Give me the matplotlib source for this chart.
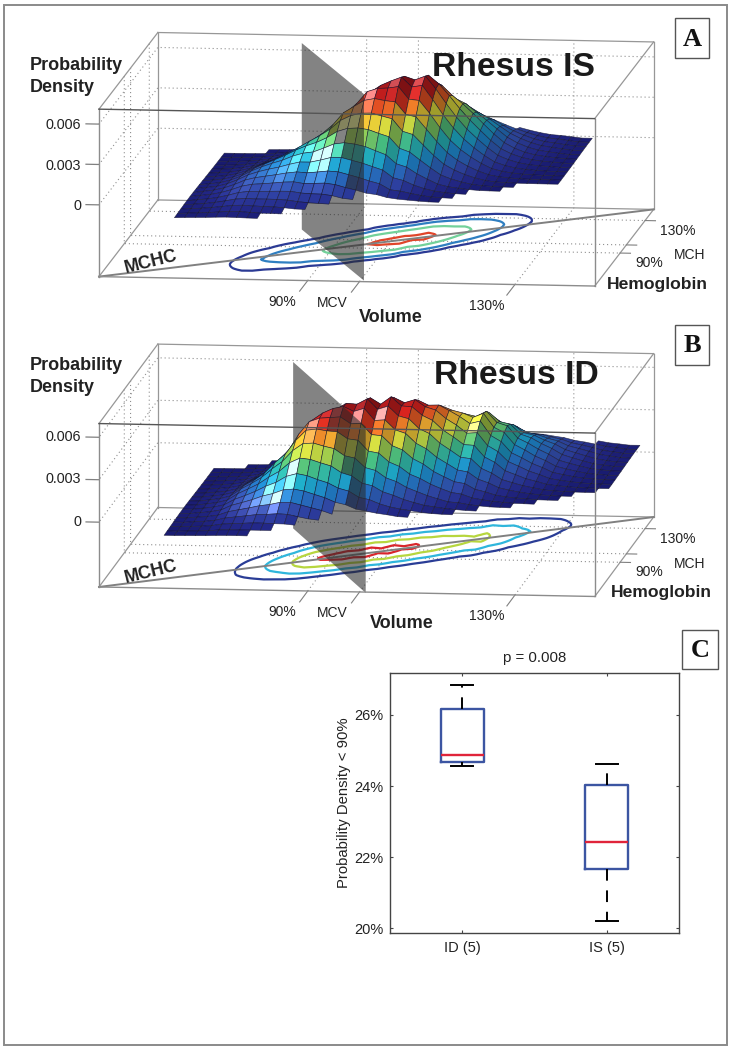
import numpy as np
import matplotlib
matplotlib.use("Agg")
import matplotlib.pyplot as plt
from matplotlib.colors import LinearSegmentedColormap
from matplotlib.patches import Rectangle
from mpl_toolkits.mplot3d import art3d, proj3d

W, H = 729, 1050
plt.rcParams['font.family'] = ['Liberation Sans', 'DejaVu Sans']
plt.rcParams['savefig.dpi'] = 100
plt.rcParams['axes.unicode_minus'] = False

# ---- data (density in 1e-4 units, MCV / MCH in % of the median)
row_mch = [35, 40, 45, 50, 55, 60, 65, 70, 75, 80, 85, 90, 95, 100, 105, 110, 115, 120, 125, 130, 135, 140, 145, 150]
cross_offset = [0, 6, 13, 20, 26, 33, 39, 46, 52, 60, 200]
cross_height = [1, .93, .76, .55, .37, .20, .09, .03, .01, 0, 0]

is_mcv = [66, 68, 70, 72, 74, 76, 78, 80, 82, 84, 86, 88, 90, 92, 94, 96, 98, 100, 102, 104, 106, 108, 110, 112, 114, 116, 118, 120, 122, 124, 126, 128, 130, 132, 134]
is_ridge = [1, 2, 3, 5, 8, 12, 15, 18, 21, 25, 29, 33, 39, 47, 53, 60, 64, 66, 69, 64, 67, 59, 49, 41, 33, 26, 19, 13, 9, 6, 4, 3, 2, 1, 1]
is_center = [61, 63, 65, 68, 70, 72, 74, 77, 79, 81, 83, 86, 88, 90, 92, 95, 97, 99, 101, 104, 106, 108, 110, 113, 115, 117, 119, 122, 124, 126, 128, 131, 133, 135, 137]
is_low = [35, 35, 35, 35, 35, 35, 35, 35, 40, 40, 45, 45, 50, 50, 55, 55, 60, 60, 60, 60, 60, 60, 60, 60, 65, 70, 75, 75, 75, 80, 85, 85, 85, 85, 85]
is_high = [115, 115, 115, 115, 120, 120, 120, 120, 120, 120, 125, 125, 125, 125, 125, 130, 130, 130, 130, 130, 130, 135, 135, 135, 135, 135, 135, 140, 140, 140, 140, 140, 140, 140, 140]
is_levels = [6, 15, 34, 60]

id_mcv = [64, 66, 68, 70, 72, 74, 76, 78, 80, 82, 84, 86, 88, 90, 92, 94, 96, 98, 100, 102, 104, 106, 108, 110, 112, 114, 116, 118, 120, 122, 124, 126, 128, 130, 132, 134, 136, 138, 140, 142]
id_ridge = [1, 1, 2, 3, 5, 10, 14, 19, 26, 33, 44, 53, 57, 59, 62, 60, 64, 58, 62, 57, 58, 53, 52, 47, 44, 40, 43, 34, 31, 23, 20, 16, 13, 9, 7, 5, 3, 2, 1, 1]
id_center = [64, 66, 68, 70, 72, 74, 76, 78, 80, 82, 84, 86, 88, 90, 92, 94, 96, 98, 100, 102, 104, 106, 108, 110, 112, 114, 116, 118, 120, 122, 124, 126, 128, 131, 133, 135, 137, 139, 141, 143]
id_low = [35, 35, 35, 35, 35, 35, 35, 35, 40, 40, 45, 45, 50, 50, 55, 60, 60, 60, 60, 60, 60, 60, 65, 65, 65, 65, 70, 70, 75, 75, 75, 80, 80, 85, 85, 90, 95, 95, 100, 100]
id_high = [115, 115, 115, 120, 120, 125, 125, 125, 125, 125, 130, 130, 130, 130, 130, 130, 135, 135, 135, 135, 135, 135, 135, 140, 140, 140, 140, 140, 140, 145, 145, 145, 145, 145, 145, 150, 150, 150, 150, 150]
id_levels = [8, 20, 38, 55]

box_groups = ['ID (5)', 'IS (5)']
box_whislo = [24.56, 20.2]
box_q1 = [24.68, 21.68]
box_med = [24.88, 22.42]
box_q3 = [26.18, 24.04]
box_whishi = [26.83, 24.61]
box_yticks = [20, 22, 24, 26]

shade = LinearSegmentedColormap.from_list('inked', [
    (0, (24/255, 26/255, 110/255)), (.05, (35/255, 40/255, 135/255)), (.15, (50/255, 75/255, 170/255)),
    (.27, (30/255, 130/255, 200/255)), (.36, (30/255, 175/255, 200/255)), (.47, (70/255, 190/255, 130/255)),
    (.57, (170/255, 205/255, 70/255)), (.64, (235/255, 225/255, 60/255)), (.73, (235/255, 130/255, 40/255)),
    (.83, (215/255, 35/255, 30/255)), (1, (115/255, 10/255, 20/255))])

fig = plt.figure(figsize=(W/100, H/100), dpi=100, facecolor='white')


def T(x, y, s, **kw):
    kw.setdefault('ha', 'center')
    kw.setdefault('va', 'center')
    return fig.text(x/W, 1-y/H, s, **kw)


def fit(ax, xl, yl, zl, p0, p1):
    side = 650.0
    cx, cy = 370.0, (p0[1]+p1[1])/2
    for _ in range(4):
        ax.set_position([(cx-side/2)/W, 1-(cy+side/2)/H, side/W, side/H])
        ax.apply_aspect()
        M = ax.get_proj()
        a = proj3d.proj_transform(xl[0], yl[0], zl[0], M)[:2]
        b = proj3d.proj_transform(xl[1], yl[1], zl[0], M)[:2]
        pa = ax.transData.transform(a)
        pb = ax.transData.transform(b)
        pa = np.array([pa[0], H-pa[1]])
        pb = np.array([pb[0], H-pb[1]])
        s = np.hypot(*(np.array(p1)-np.array(p0)))/np.hypot(*(pb-pa))
        side *= s
        mid = (pa+pb)/2
        tgt = (np.array(p0)+np.array(p1))/2
        cx += (tgt-mid)[0]
        cy += (tgt-mid)[1]
    ax.set_position([(cx-side/2)/W, 1-(cy+side/2)/H, side/W, side/H])


def panel(mcv, ridge, center, low, high, levels, cols, k, view, aspect, zl, p0, p1, plane, clim):
    ax = fig.add_subplot(projection='3d', computed_zorder=False, proj_type='ortho')
    ax.set_facecolor('none')
    ax.view_init(elev=view[0], azim=view[1])
    ax.set_box_aspect(aspect)
    xl, yl = (49.7, 145.4), (49.4, 143.7)
    xt, yt, zt = [90, 100, 130], [90, 100, 130], [0, .003, .006]
    ax.set_xlim(*xl, view_margin=0)
    ax.set_ylim(*yl, view_margin=0)
    ax.set_zlim(*zl, view_margin=0)
    ax.set_xticks(xt)
    ax.set_yticks(yt)
    ax.set_zticks(zt)
    ax.set_xticklabels(['', '', ''])
    ax.set_yticklabels(['', '', ''])
    ax.set_zticklabels(['', '', ''])
    for axis in (ax.xaxis, ax.yaxis, ax.zaxis):
        axis.set_pane_color((1, 1, 1, 0))
        axis.line.set_color((0, 0, 0, 0))
        axis._axinfo['grid'].update(color='#8f8f8f', linestyle=(0, (1, 2.6)), linewidth=.8)
        axis._axinfo['tick'].update(inward_factor=0, outward_factor=0)
    fit(ax, xl, yl, zl, p0, p1)

    # box edges
    x0, x1 = xl; y0, y1 = yl; z0, z1 = zl
    back = [((x0, x0), (y1, y1), (z0, z1)), ((x1, x1), (y1, y1), (z0, z1)),
            ((x0, x1), (y1, y1), (z1, z1)), ((x0, x1), (y1, y1), (z0, z0)),
            ((x0, x0), (y0, y1), (z1, z1)), ((x1, x1), (y0, y1), (z1, z1)),
            ((x0, x0), (y0, y1), (z0, z0)), ((x1, x1), (y0, y1), (z0, z0))]
    for e in back:
        ax.plot(*e, color='#979797', lw=.9, zorder=1)
    for e in [((x0, x1), (y0, y0), (z0, z0)), ((x0, x0), (y0, y0), (z0, z1)), ((x1, x1), (y0, y0), (z0, z1))]:
        ax.plot(*e, color='#8c8c8c', lw=1.0, zorder=20)
    ax.plot((x0, x1), (y0, y0), (z1, z1), color='#555555', lw=1.0, zorder=20)
    # tick marks
    for v in xt:
        ax.plot((v, v), (y0, y0-13), (z0, z0), color='#808080', lw=.8, zorder=1)
    for v in yt:
        ax.plot((x1, x1+2), (v, v), (z0, z0), color='#808080', lw=.8, zorder=1)
    for v in zt:
        ax.plot((x0, x0-2.5), (y0, y0), (v, v), color='#808080', lw=.9, zorder=1)

    # surface
    V = np.array(mcv, float)
    R = np.array(row_mch, float)
    rg = np.array(ridge, float)
    ct = np.array(center, float)
    Z = np.array([[rg[j]*np.interp(abs(r-ct[j]), cross_offset, cross_height) for r in R] for j in range(len(V))])

    # contours on the floor
    fine = np.arange(30., 160., 1.)
    F = np.array([[rg[j]*np.interp(abs(r-ct[j])*k, cross_offset, cross_height) for r in fine] for j in range(len(V))])
    XX, YY = np.meshgrid(V, fine, indexing='ij')
    cs = ax.contour(XX, YY, F/1e4, levels=np.array(levels)/1e4, zdir='z', offset=z0, colors=cols, linewidths=1.6)
    cs.set_zorder(2)
    ax.plot((x0, x1), (y0, y1), (z0, z0), color='#808080', lw=1.4, zorder=3)

    # plane
    (pa, pb, ptop) = plane
    A = np.array(pa, float); B = np.array(pb, float)
    dirv = B-A
    nrm = np.array([dirv[1], -dirv[0]])
    if nrm[0] < 0:
        nrm = -nrm

    right_v, right_c, left_v, left_c = [], [], [], []
    sx, sy, sz = 5.2, 5.2, 1.35
    Lv = np.array([-.45, -.45, .77]); Lv /= np.linalg.norm(Lv)
    Hv = np.array([-.25, -.30, .92]); Hv /= np.linalg.norm(Hv)
    for j in range(len(V)-1):
        for i in range(len(R)-1):
            if not (low[j] <= R[i] and R[i+1] <= high[j]):
                continue
            zz = (Z[j, i]+Z[j+1, i]+Z[j, i+1]+Z[j+1, i+1])/4
            gx = ((Z[j+1, i]+Z[j+1, i+1])-(Z[j, i]+Z[j, i+1]))/2*sz/((V[j+1]-V[j])*sx)
            gy = ((Z[j, i+1]+Z[j+1, i+1])-(Z[j, i]+Z[j+1, i]))/2*sz/((R[i+1]-R[i])*sy)
            n = np.array([-gx, -gy, 1.0]); n /= np.linalg.norm(n)
            base = np.array(shade(min(zz/clim, 1))[:3])
            dif = max(n @ Lv, 0)
            spec = max(n @ Hv, 0)**110
            col = np.clip(base*(.62+.50*dif)+.8*spec*(zz > 5), 0, 1)
            poly = [(V[j], R[i], Z[j, i]/1e4), (V[j+1], R[i], Z[j+1, i]/1e4),
                    (V[j+1], R[i+1], Z[j+1, i+1]/1e4), (V[j], R[i+1], Z[j, i+1]/1e4)]
            cen = np.array([(V[j]+V[j+1])/2, (R[i]+R[i+1])/2])
            if (cen-A) @ nrm > 0:
                right_v.append(poly); right_c.append(col)
            else:
                left_v.append(poly); left_c.append(col)
    for verts, colr, zo in ((right_v, right_c, 4), (left_v, left_c, 6)):
        pc = art3d.Poly3DCollection(verts, facecolors=colr, edgecolors=(.08, .08, .18, .75), linewidths=.45)
        pc.set_zorder(zo)
        ax.add_collection3d(pc, autolim=False)
    pl = art3d.Poly3DCollection([[(A[0], A[1], z0), (B[0], B[1], z0), (B[0], B[1], ptop), (A[0], A[1], ptop)]],
                                facecolors=[(.16, .16, .16, .58)], edgecolors='none')
    pl.set_zorder(5)
    ax.add_collection3d(pl, autolim=False)
    return ax


panel(is_mcv, is_ridge, is_center, is_low, is_high, is_levels,
      ['#2b3a94', '#2f7fc1', '#72d19a', '#e0452a'], 1.8,
      (9.06, -83.1), (500.7, 491.6, 170), (-.00533, .00711), (99, 277), (653.6, 209),
      ((100.7, 50.7), (81.4, 111.2), .00852), 68)
panel(id_mcv, id_ridge, id_center, id_low, id_high, id_levels,
      ['#2a3d96', '#2fb6dc', '#b7d63e', '#d9262c'], 1.58,
      (9.27, -83.2), (500.6, 498, 166), (-.00458, .00697), (99, 587), (653.6, 517),
      ((101.3, 48.4), (78.4, 122.3), .00718), 64)

# ---- box plot
ax = fig.add_axes([390/W, 1-933/H, 289/W, 260/H])
stats = [dict(label=g, whislo=a, q1=b, med=c, q3=d, whishi=e)
         for g, a, b, c, d, e in zip(box_groups, box_whislo, box_q1, box_med, box_q3, box_whishi)]
ax.bxp(stats, positions=[1, 2], widths=.3, capwidths=.15, showfliers=False,
       boxprops=dict(color='#3c55a2', lw=1.7),
       medianprops=dict(color='#e0243a', lw=1.7),
       whiskerprops=dict(color='black', lw=1.4, linestyle=(0, (6, 5))),
       capprops=dict(color='black', lw=1.4))
ax.set_xlim(.5, 2.5)
ax.set_ylim(19.87, 27.18)
ax.set_yticks(box_yticks)
ax.set_yticklabels([f'{v}%' for v in box_yticks], fontsize=10.5, color='#222222')
ax.tick_params(axis='x', labelsize=10.5, labelcolor='#222222', pad=6)
ax.tick_params(direction='in', top=True, right=True, length=2.5, width=.8, color='#444444')
ax.tick_params(axis='y', pad=5)
for sp in ax.spines.values():
    sp.set_color('#444444')
    sp.set_linewidth(1.0)
ax.set_title('p = 0.008', fontsize=10.8, color='#222222', pad=8)
ax.set_ylabel('Probability Density < 90%', fontsize=10.7, color='#222222', labelpad=2)

# ---- texts
dark = '#222222'
for dy, ty, name, rx, ry, vol_x, vol_y, hemo_x, hemo_y in (
        (0, 0, 'Rhesus IS', 513, 67, 391, 317, 657, 284),
        (310, 300, 'Rhesus ID', 516, 376, 402, 623, 661, 592)):
    T(30, 65+ty, 'Probability', ha='left', fontweight='bold', fontsize=13, color=dark)
    T(30, 87+ty, 'Density', ha='left', fontweight='bold', fontsize=13, color=dark)
    T(rx, ry, name, fontweight='bold', fontsize=24.2, color='#1a1a1a')
    T(vol_x, vol_y, 'Volume', fontweight='bold', fontsize=13, color=dark)
    T(hemo_x, hemo_y, 'Hemoglobin', fontweight='bold', fontsize=12.6, color=dark)
    T(151, 262+dy, 'MCHC', fontweight='bold', fontsize=13, rotation=14, color=dark)
    T(282, 302+dy, '90%', fontsize=10, color=dark)
    T(332, 303+dy, 'MCV', fontsize=10, color=dark)
    T(487, 306+dy, '130%', fontsize=10, color=dark)
T(81, 125, '0.006', ha='right', fontsize=10.4, color=dark)
T(81, 165.5, '0.003', ha='right', fontsize=10.4, color=dark)
T(81, 205.5, '0', ha='right', fontsize=10.4, color=dark)
T(81, 437, '0.006', ha='right', fontsize=10.4, color=dark)
T(81, 479, '0.003', ha='right', fontsize=10.4, color=dark)
T(81, 522, '0', ha='right', fontsize=10.4, color=dark)
for (x, y, s) in ((678, 231, '130%'), (690, 255, 'MCH'), (649, 263, '90%'),
                  (678, 539, '130%'), (690, 564, 'MCH'), (649, 572, '90%')):
    T(x, y, s, fontsize=10, color=dark)

for (x0, y0, x1, y1, s) in ((675, 18, 709, 58, 'A'), (675, 325, 709, 365, 'B'), (682, 630, 718, 669, 'C')):
    fig.add_artist(Rectangle((x0/W, 1-y1/H), (x1-x0)/W, (y1-y0)/H, transform=fig.transFigure,
                             fill=False, ec='#555555', lw=1.0))
    T((x0+x1)/2, (y0+y1)/2+1, s, family=['Liberation Serif'], fontweight='bold', fontsize=19, color='#111111')

fig.add_artist(Rectangle((3.5/W, 1-1045/H), 723.5/W, 1040/H, transform=fig.transFigure, fill=False, ec='#8a8a8a', lw=1.4))

fig.savefig('out.png', dpi=100)
